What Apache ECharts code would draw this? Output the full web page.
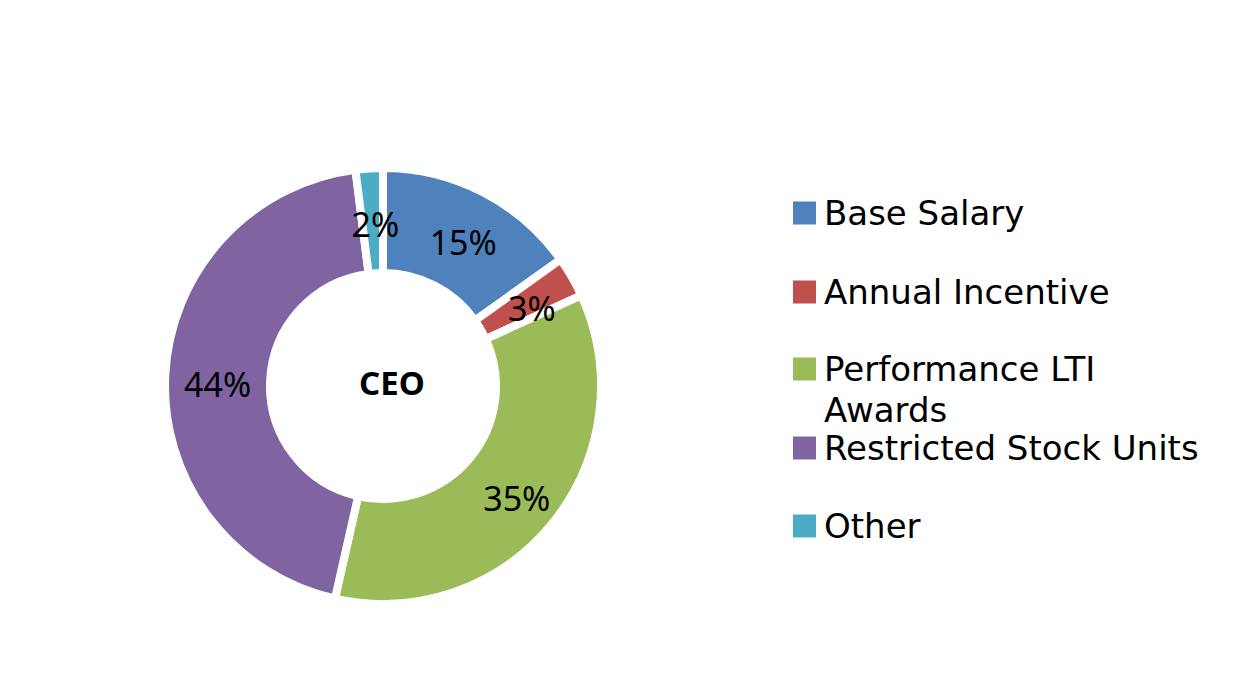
<!DOCTYPE html>
<html><head><meta charset="utf-8">
<script src="https://cdn.jsdelivr.net/npm/echarts@6/dist/echarts.min.js"></script>
<style>html,body{margin:0;padding:0;background:#fff}#c{width:1235px;height:682px}</style>
</head><body><div id="c"></div>
<script>
const categories = ['Base Salary', 'Annual Incentive', 'Performance LTI\nAwards', 'Restricted Stock Units', 'Other'];
const values = [15, 3, 35, 44, 2];
const colors = ['#4F81BD', '#C0504D', '#9BBB59', '#8064A2', '#4BACC6'];
const centerLabel = 'CEO';

const FONT = 'Noto Sans';
const LEGEND_FONT = 'DejaVu Sans';
const legendCenters = [212, 291, 369, 447, 525];
const LH_SINGLE = 32, LH_MULTI = 41;
// square icon at the top of a taller box so it lines up with the first text line
const tallIcon = 'path://M0,0H25V25H0Z M0,65.9H0.01V66H0Z';
const chart = echarts.init(document.getElementById('c'), null, {renderer: 'svg'});
chart.setOption({
  animation: false,
  backgroundColor: '#fff',
  title: {
    text: centerLabel, left: 387, top: 377, textAlign: 'center', textVerticalAlign: 'middle',
    textStyle: {fontFamily: FONT, fontWeight: 'bold', fontSize: 33, color: '#000'}
  },
  legend: categories.map((c, i) => {
    const multi = c.indexOf('\n') >= 0;
    const L = multi ? LH_MULTI : LH_SINGLE;
    return {
      data: [c], left: 786, top: legendCenters[i] - L / 2 - 5, orient: 'vertical',
      itemWidth: 25, itemHeight: multi ? L + 25 : 25, itemGap: 0,
      icon: multi ? tallIcon : 'rect',
      textStyle: {fontFamily: LEGEND_FONT, fontSize: 34, color: '#000', lineHeight: L,
                  padding: [0, 0, 0, 2]},
      selectedMode: false
    };
  }),
  series: [{
    type: 'pie',
    center: [383, 386],
    radius: [113, 218],
    startAngle: 90,
    clockwise: true,
    avoidLabelOverlap: false,
    itemStyle: {borderColor: '#fff', borderWidth: 8},
    label: {
      show: true, position: 'inside', offset: [3, 6],
      formatter: p => p.value + '%',
      fontFamily: FONT, fontSize: 34, color: '#000'
    },
    labelLine: {show: false},
    data: categories.map((c, i) => ({name: c, value: values[i], itemStyle: {color: colors[i]}}))
  }]
});
</script></body></html>
